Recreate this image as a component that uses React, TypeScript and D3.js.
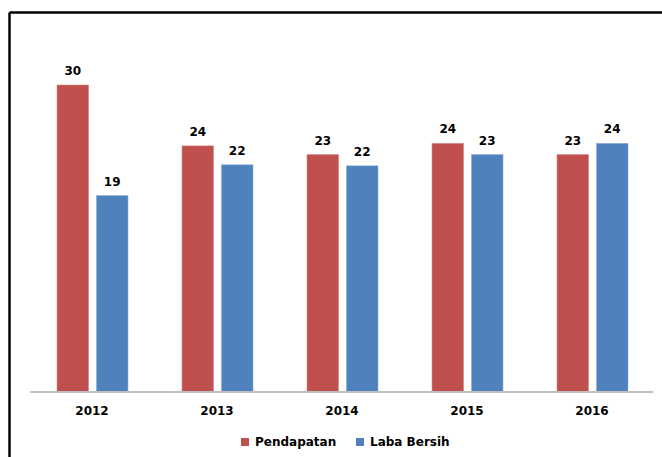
import React from "react";
import * as d3 from "d3";

const years = ["2012", "2013", "2014", "2015", "2016"];
const pendapatan = [30.0, 24.05, 23.2, 24.3, 23.2];
const labaBersih = [19.2, 22.2, 22.1, 23.2, 24.3];
const seriesNames = ["Pendapatan", "Laba Bersih"];
const colors = ["#C0504D", "#4F81BD"];

const W = 662;
const H = 457;

export default function App() {
  const x = d3.scaleBand<string>().domain(years).range([30, 655]).paddingInner(0).paddingOuter(0);
  const inner = d3.scaleBand<number>().domain([0, 1]).range([27, 98]).paddingInner(0.2);
  const y = d3.scaleLinear().domain([0, 30]).range([392, 85]);
  const series = [pendapatan, labaBersih];
  const font = "'DejaVu Sans', Verdana, sans-serif";

  return (
    <svg
      width={W}
      height={H}
      style={{ position: "absolute", left: 0, top: 0, background: "#fff" }}
    >
      <line x1={9.5} x2={W} y1={12.5} y2={12.5} stroke="#000" strokeWidth={2.5} />
      <line x1={9.5} x2={9.5} y1={12.5} y2={H} stroke="#000" strokeWidth={2.5} />
      {series.map((vals, si) =>
        vals.map((v, i) => {
          const bx = (x(years[i]) as number) + (inner(si) as number);
          const bw = inner.bandwidth();
          return (
            <g key={`${si}-${i}`}>
              <rect
                x={bx}
                y={y(v)}
                width={bw}
                height={y(0) - y(v)}
                fill={colors[si]}
                stroke={si === 0 ? "#d88a88" : "#8eaedb"}
                strokeWidth={0.6}
              />
              <text
                x={bx + bw / 2}
                y={y(v) - 10}
                textAnchor="middle"
                fontFamily={font}
                fontWeight="bold"
                fontSize={12}
                fill="#000"
              >
                {d3.format(".0f")(v)}
              </text>
            </g>
          );
        })
      )}
      <line x1={30} x2={653} y1={392} y2={392} stroke="#bfbfbf" strokeWidth={2} />
      {years.map((yr) => (
        <text
          key={yr}
          x={(x(yr) as number) + x.bandwidth() / 2 - 0.5}
          y={415}
          textAnchor="middle"
          fontFamily={font}
          fontWeight="bold"
          fontSize={12}
          fill="#000"
        >
          {yr}
        </text>
      ))}
      {seriesNames.map((name, i) => {
        const lx = [241, 356][i];
        return (
          <g key={name}>
            <rect x={lx} y={438} width={8} height={8} fill={colors[i]} />
            <text
              x={lx + 14}
              y={446}
              fontFamily={font}
              fontWeight="bold"
              fontSize={12}
              fill="#000"
            >
              {name}
            </text>
          </g>
        );
      })}
    </svg>
  );
}
